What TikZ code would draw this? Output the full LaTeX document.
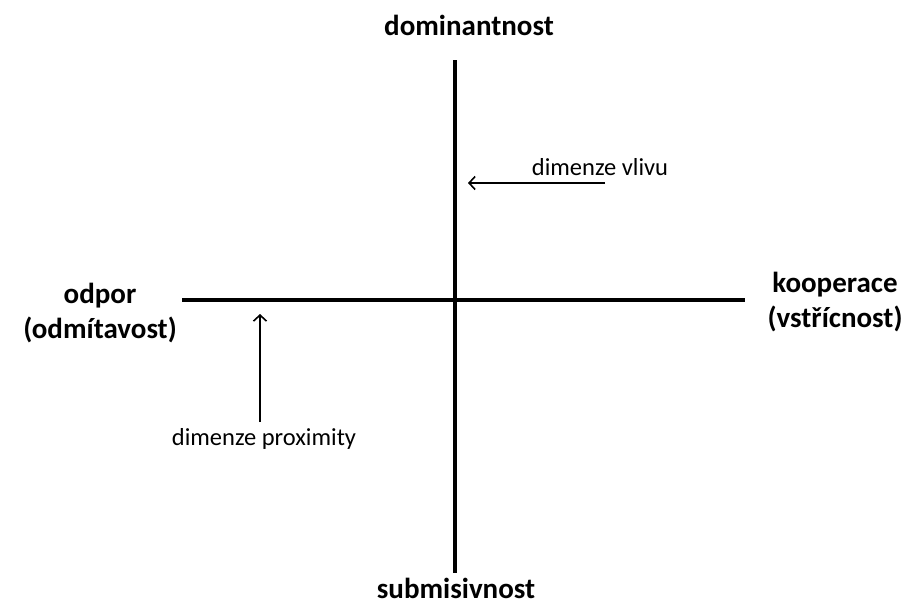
\documentclass[tikz,border=0pt]{standalone}
\usepackage{fontspec}
\setmainfont{Carlito}
\usetikzlibrary{arrows.meta}
\begin{document}
\begin{tikzpicture}[x=1pt,y=-1pt,
  axis/.style={line width=4.5pt},
  pointer/.style={line width=1.6pt,-{Straight Barb[length=6pt,width=13pt,line width=1.6pt]}},
  big/.style={font=\bfseries\fontsize{29}{35}\selectfont,align=center,inner sep=0pt,anchor=base},
  small/.style={font=\fontsize{24.5}{28}\selectfont,inner sep=0pt,anchor=base}]
\useasboundingbox (0,0) rectangle (905,605);
\coordinate (vt) at (455,60);
\coordinate (vb) at (455,573);
\coordinate (hl) at (182,300);
\coordinate (hr) at (745,300);
\draw[axis] (vt) -- (vb);
\draw[axis] (hl) -- (hr);
\node[big] (dom) at (469,35) {dominantnost};
\node[big] (sub) at (456,598) {submisivnost};
\node[big] (odp) at (100,338) {odpor\\(odmítavost)};
\node[big] (koo) at (835,327) {kooperace\\(vstřícnost)};
\node[small] (vliv) at (600,175) {dimenze vlivu};
\node[small] (prox) at (264,445) {dimenze proximity};
\coordinate (vs) at (605,183);
\coordinate (ve) at (468,183);
\coordinate (ps) at (260,422);
\coordinate (pe) at (260,314);
\draw[pointer] (vs) -- (ve);
\draw[pointer] (ps) -- (pe);
\end{tikzpicture}
\end{document}
